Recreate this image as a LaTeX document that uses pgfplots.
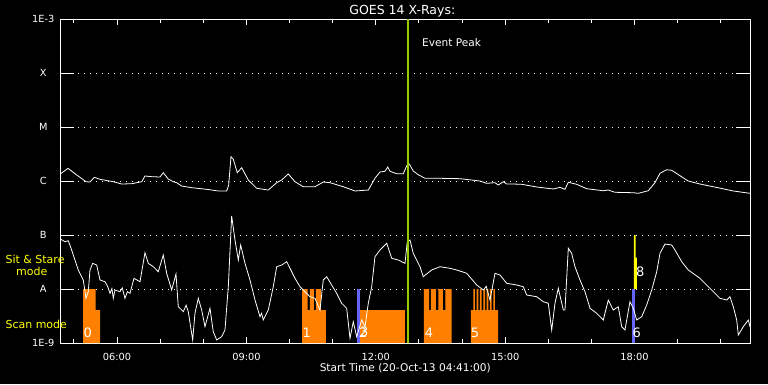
\documentclass[border=0pt]{standalone}
\usepackage{fontspec}
\setmainfont{DejaVu Sans}
\usepackage{pgfplots}
\pgfplotsset{compat=1.18}
\definecolor{scanorange}{RGB}{255,128,0}
\definecolor{peakgreen}{RGB}{153,204,0}
\definecolor{sblue}{RGB}{100,100,255}
\definecolor{syellow}{RGB}{255,255,0}
\begin{document}
\begin{tikzpicture}[x=1pt,y=1pt]
\path[use as bounding box, fill=black] (0,0) rectangle (768,384);
\begin{axis}[
  at={(60.3pt,41pt)}, anchor=south west,
  scale only axis, width=690pt, height=324pt,
  xmin=4.6833, xmax=20.6833, ymin=-9, ymax=-3,
  clip=false,
  axis line style={white, line width=1pt},
  xtick={6,9,12,15,18},
  xticklabels={06:00,09:00,12:00,15:00,18:00},
  minor xtick={5,7,8,10,11,13,14,16,17,19,20},
  ytick={-9,-8,-7,-6,-5,-4,-3},
  yticklabels={1E-9,A,B,C,M,X,1E-3},
  xtick pos=both, ytick pos=both,
  xticklabel pos=lower, yticklabel pos=left,
  tick align=inside,
  every tick/.style={white, line width=1pt},
  xtick style={/pgfplots/major tick length=6pt, /pgfplots/minor tick length=4pt},
  ytick style={/pgfplots/major tick length=14pt},
  ymajorgrids,
  major grid style={white, line width=1pt, dash pattern=on 1pt off 5pt},
  tick label style={white, font=\fontsize{9.8}{11}\selectfont},
  xticklabel style={yshift=-7pt},
  yticklabel style={anchor=center, xshift=-17pt},
  title={GOES 14 X-Rays:},
  title style={white, font=\fontsize{12.5}{14}\selectfont, at={(axis description cs:0.5,1)}, anchor=base, yshift=-1pt, xshift=-3pt},
  xlabel={Start Time (20-Oct-13 04:41:00)},
  xlabel style={white, font=\fontsize{10.6}{12}\selectfont, at={(axis description cs:0.5,0)}, anchor=base, yshift=-28.5pt},
]
% scan mode blocks
\addplot[fill=scanorange, draw=none] coordinates {(5.210,-9)(5.210,-8)(5.504,-8)(5.504,-8.389)(5.604,-8.389)(5.604,-9)} -- cycle;
\addplot[fill=scanorange, draw=none] coordinates {(10.288,-9)(10.288,-8)(10.420,-8)(10.420,-8.389)(10.473,-8.389)(10.473,-8)(10.566,-8)(10.566,-8.389)(10.612,-8.389)(10.612,-8)(10.728,-8)(10.728,-8.389)(10.844,-8.389)(10.844,-9)} -- cycle;
\addplot[fill=scanorange, draw=none] coordinates {(11.625,-9)(11.625,-8.389)(12.676,-8.389)(12.676,-9)} -- cycle;
\addplot[fill=scanorange, draw=none] coordinates {(13.116,-9)(13.116,-8)(13.233,-8)(13.233,-8.389)(13.279,-8.389)(13.279,-8)(13.395,-8)(13.395,-8.389)(13.448,-8.389)(13.448,-8)(13.557,-8)(13.557,-8.389)(13.610,-8.389)(13.610,-8)(13.759,-8)(13.759,-9)} -- cycle;
\addplot[fill=scanorange, draw=none] coordinates {(14.206,-9)(14.206,-8.389)(14.260,-8.389)(14.260,-8)(14.299,-8)(14.299,-8.389)(14.338,-8.389)(14.338,-8)(14.376,-8)(14.376,-8.389)(14.415,-8.389)(14.415,-8)(14.455,-8)(14.455,-8.389)(14.492,-8.389)(14.492,-8)(14.532,-8)(14.532,-8.389)(14.570,-8.389)(14.570,-8)(14.609,-8)(14.609,-8.389)(14.647,-8.389)(14.647,-8)(14.687,-8)(14.687,-8.389)(14.725,-8.389)(14.725,-8)(14.763,-8)(14.763,-8.389)(14.833,-8.389)(14.833,-9)} -- cycle;
% sit & stare / markers
\addplot[fill=sblue, draw=none] coordinates {(11.563,-9)(11.563,-8)(11.625,-8)(11.625,-9)} -- cycle;
\addplot[fill=sblue, draw=none] coordinates {(17.947,-9)(17.947,-8)(18.009,-8)(18.009,-9)} -- cycle;
\addplot[fill=syellow, draw=none] coordinates {(17.986,-8)(17.986,-7)(18.025,-7)(18.025,-7.42)(18.055,-7.42)(18.055,-8)} -- cycle;
% long channel
\addplot[white, line width=0.8pt] coordinates {(4.683,-5.870)(4.862,-5.765)(5.064,-5.889)(5.279,-6.013)(5.372,-6.019)(5.472,-5.931)(5.604,-5.969)(5.912,-6.013)(6.107,-6.056)(6.339,-6.050)(6.571,-6.013)(6.647,-5.907)(6.802,-5.920)(6.995,-5.926)(7.071,-5.846)(7.187,-5.963)(7.303,-6.013)(7.382,-6.031)(7.498,-6.093)(7.730,-6.124)(8.078,-6.154)(8.347,-6.185)(8.541,-6.185)(8.588,-6.074)(8.641,-5.550)(8.695,-5.598)(8.787,-5.846)(8.889,-5.754)(9.042,-5.981)(9.082,-6.013)(9.237,-6.135)(9.506,-6.167)(9.701,-6.031)(9.817,-5.981)(9.970,-5.870)(10.125,-6.013)(10.318,-6.106)(10.589,-6.106)(10.781,-6.019)(10.937,-6.031)(11.245,-6.106)(11.517,-6.185)(11.825,-6.167)(11.980,-5.950)(12.096,-5.833)(12.212,-5.820)(12.275,-5.741)(12.328,-5.820)(12.483,-5.865)(12.637,-5.865)(12.715,-5.722)(12.776,-5.685)(12.868,-5.815)(12.984,-5.883)(13.140,-5.950)(13.488,-5.950)(13.951,-5.957)(14.415,-6.000)(14.570,-6.043)(14.763,-6.031)(14.839,-6.074)(14.955,-6.013)(15.034,-6.056)(15.187,-6.056)(15.382,-6.061)(15.730,-6.111)(16.115,-6.148)(16.270,-6.117)(16.386,-6.154)(16.463,-6.024)(16.657,-6.061)(16.889,-6.143)(17.274,-6.180)(17.390,-6.167)(17.545,-6.209)(17.970,-6.217)(18.086,-6.228)(18.318,-6.180)(18.473,-6.031)(18.589,-5.857)(18.744,-5.791)(18.860,-5.802)(19.053,-5.902)(19.245,-6.000)(19.516,-6.056)(19.825,-6.106)(20.289,-6.185)(20.676,-6.228)};
% short channel
\addplot[white, line width=0.8pt] coordinates {(4.683,-7.074)(4.792,-7.124)(4.869,-7.106)(4.947,-7.278)(5.100,-7.648)(5.216,-7.833)(5.279,-8.172)(5.332,-8.050)(5.372,-7.648)(5.434,-7.524)(5.527,-7.556)(5.604,-7.833)(5.720,-7.865)(5.780,-7.950)(5.836,-8.080)(5.880,-7.990)(5.912,-8.172)(5.951,-8.019)(6.067,-8.050)(6.120,-7.980)(6.183,-8.172)(6.240,-8.050)(6.299,-8.080)(6.392,-7.802)(6.531,-7.865)(6.647,-7.328)(6.724,-7.524)(6.840,-7.587)(6.955,-7.680)(7.071,-7.370)(7.150,-7.709)(7.266,-8.019)(7.366,-7.722)(7.419,-8.328)(7.535,-8.420)(7.600,-8.300)(7.651,-8.420)(7.753,-8.944)(7.806,-8.450)(7.883,-8.172)(7.962,-8.389)(8.038,-8.698)(8.154,-8.357)(8.231,-8.791)(8.310,-8.944)(8.426,-8.883)(8.502,-8.759)(8.579,-7.957)(8.657,-6.648)(8.734,-7.093)(8.811,-7.463)(8.866,-7.185)(8.966,-7.524)(9.082,-7.833)(9.198,-8.204)(9.314,-8.513)(9.350,-8.450)(9.390,-8.574)(9.506,-8.389)(9.622,-7.957)(9.701,-7.587)(9.817,-7.556)(9.933,-7.494)(10.009,-7.617)(10.125,-7.802)(10.241,-7.957)(10.357,-8.050)(10.473,-8.143)(10.589,-8.172)(10.705,-8.389)(10.781,-7.833)(10.860,-7.772)(10.976,-7.926)(11.092,-8.080)(11.208,-8.265)(11.324,-8.357)(11.401,-8.913)(11.477,-8.606)(11.556,-8.883)(11.672,-8.574)(11.749,-8.698)(11.825,-8.265)(11.904,-7.957)(11.980,-7.402)(12.096,-7.278)(12.252,-7.154)(12.368,-7.431)(12.521,-7.463)(12.676,-7.524)(12.729,-7.124)(12.792,-7.093)(12.868,-7.339)(13.024,-7.587)(13.100,-7.772)(13.295,-7.648)(13.488,-7.587)(13.719,-7.617)(13.875,-7.648)(14.107,-7.709)(14.339,-7.926)(14.492,-8.019)(14.560,-7.950)(14.647,-8.204)(14.763,-7.709)(14.879,-7.741)(15.034,-7.894)(15.266,-7.926)(15.419,-7.957)(15.498,-8.111)(15.730,-8.143)(15.883,-8.235)(15.999,-8.265)(16.078,-8.759)(16.154,-8.265)(16.231,-7.987)(16.347,-8.389)(16.386,-8.389)(16.463,-7.246)(16.541,-7.339)(16.618,-7.587)(16.734,-7.833)(16.850,-8.050)(16.966,-8.357)(17.121,-8.450)(17.274,-8.574)(17.390,-8.204)(17.506,-8.389)(17.622,-8.328)(17.701,-8.698)(17.777,-8.759)(17.893,-8.235)(17.970,-8.357)(18.049,-8.574)(18.165,-8.513)(18.281,-8.296)(18.397,-8.019)(18.513,-7.680)(18.589,-7.339)(18.705,-7.167)(18.860,-7.185)(18.937,-7.278)(19.092,-7.494)(19.245,-7.648)(19.516,-7.802)(19.709,-7.957)(19.825,-8.050)(19.980,-8.172)(20.135,-8.204)(20.212,-8.143)(20.289,-8.328)(20.368,-8.574)(20.405,-8.852)(20.520,-8.698)(20.636,-8.574)(20.676,-8.698)};
% event peak
\addplot[peakgreen, line width=2.3pt] coordinates {(12.749,-9)(12.749,-3)};
\node[white, anchor=west, font=\fontsize{10.6}{12}\selectfont] at (rel axis cs:0.5194,0.9269) {Event Peak};
% mode labels
\node[syellow, anchor=west, font=\fontsize{11}{12}\selectfont] at (rel axis cs:-0.0845,0.2593) {Sit \& Stare};
\node[syellow, anchor=west, font=\fontsize{11}{12}\selectfont] at (rel axis cs:-0.069,0.2222) {mode};
\node[syellow, anchor=west, font=\fontsize{11}{12}\selectfont] at (rel axis cs:-0.0845,0.0577) {Scan mode};
% block numbers
\node[white, font=\fontsize{13}{14}\selectfont] at (axis cs:5.318,-8.815) {0};
\node[white, font=\fontsize{13}{14}\selectfont] at (axis cs:10.397,-8.815) {1};
\node[white, font=\fontsize{13}{14}\selectfont] at (axis cs:11.70,-8.815) {2};
\node[white, font=\fontsize{13}{14}\selectfont] at (axis cs:11.73,-8.80) {3};
\node[white, font=\fontsize{13}{14}\selectfont] at (axis cs:13.233,-8.815) {4};
\node[white, font=\fontsize{13}{14}\selectfont] at (axis cs:14.299,-8.815) {5};
\node[white, font=\fontsize{13}{14}\selectfont] at (axis cs:18.049,-8.815) {6};
\node[white, font=\fontsize{13}{14}\selectfont] at (axis cs:18.132,-7.685) {8};
\end{axis}
\end{tikzpicture}
\end{document}
